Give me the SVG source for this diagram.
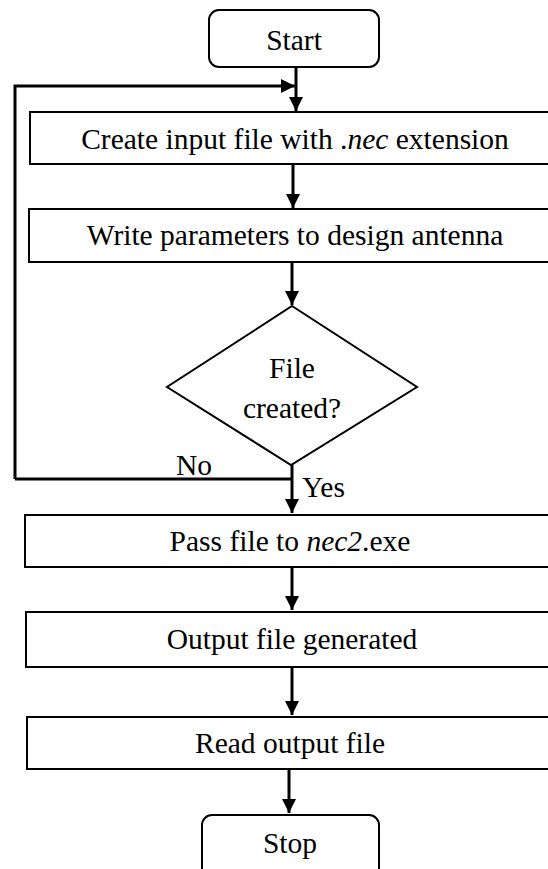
<svg xmlns="http://www.w3.org/2000/svg" width="548" height="869" viewBox="0 0 548 869">
  <style>
    .box { fill: #ffffff; stroke: #000000; stroke-width: 2; }
    .term { fill: #ffffff; stroke: #000000; stroke-width: 2; }
    .lbl { font-family: "Liberation Serif", "Times New Roman", serif; font-size: 29.5px; fill: #000000; text-anchor: middle; }
    .side { font-family: "Liberation Serif", "Times New Roman", serif; font-size: 29.5px; fill: #000000; }
    .wire { fill: none; stroke: #000000; stroke-width: 3; }
    .wire-end { fill: none; stroke: #000000; stroke-width: 3; marker-end: url(#head); }
  </style>
  <defs>
    <marker id="head" markerUnits="userSpaceOnUse" markerWidth="14" markerHeight="14" refX="14" refY="7" orient="auto">
      <path d="M0,0 L14,7 L0,14 Z" fill="#000000"/>
    </marker>
  </defs>

  <rect width="548" height="869" fill="#ffffff"/>

  <g id="connectors">
    <path class="wire-end" d="M296,67 L296,111"/>
    <path class="wire-end" d="M15,479 L15,86 L295,86"/>
    <path class="wire-end" d="M293,164 L293,208"/>
    <path class="wire-end" d="M292,262 L292,305"/>
    <path class="wire" d="M15,479 L292,479"/>
    <path class="wire-end" d="M292,465 L292,513"/>
    <path class="wire-end" d="M292,567 L292,610"/>
    <path class="wire-end" d="M292,667 L292,715"/>
    <path class="wire-end" d="M289,769 L289,813"/>
  </g>

  <g id="start">
    <rect class="term" x="209" y="10" width="170" height="57" rx="10"/>
    <text class="lbl" x="294" y="50">Start</text>
  </g>

  <g id="create">
    <rect class="box" x="30" y="112" width="540" height="52"/>
    <text class="lbl" x="295" y="149">Create input file with .<tspan font-style="italic">nec</tspan> extension</text>
  </g>

  <g id="write">
    <rect class="box" x="29" y="209" width="540" height="53"/>
    <text class="lbl" x="295" y="245">Write parameters to design antenna</text>
  </g>

  <g id="decision">
    <polygon class="box" points="292,306 417,387 291,465 167,387"/>
    <text class="lbl" x="292" y="378">File</text>
    <text class="lbl" x="292" y="418">created?</text>
  </g>

  <g id="branch-labels">
    <text class="side" x="176" y="475">No</text>
    <text class="side" x="302" y="497">Yes</text>
  </g>

  <g id="pass">
    <rect class="box" x="25" y="515" width="540" height="52"/>
    <text class="lbl" x="290" y="551">Pass file to <tspan font-style="italic">nec2</tspan>.exe</text>
  </g>

  <g id="output">
    <rect class="box" x="26" y="612" width="540" height="55"/>
    <text class="lbl" x="292" y="649">Output file generated</text>
  </g>

  <g id="read">
    <rect class="box" x="27" y="717" width="540" height="52"/>
    <text class="lbl" x="290" y="753">Read output file</text>
  </g>

  <g id="stop">
    <rect class="term" x="202" y="815" width="177" height="70" rx="10"/>
    <text class="lbl" x="290" y="853">Stop</text>
  </g>
</svg>
